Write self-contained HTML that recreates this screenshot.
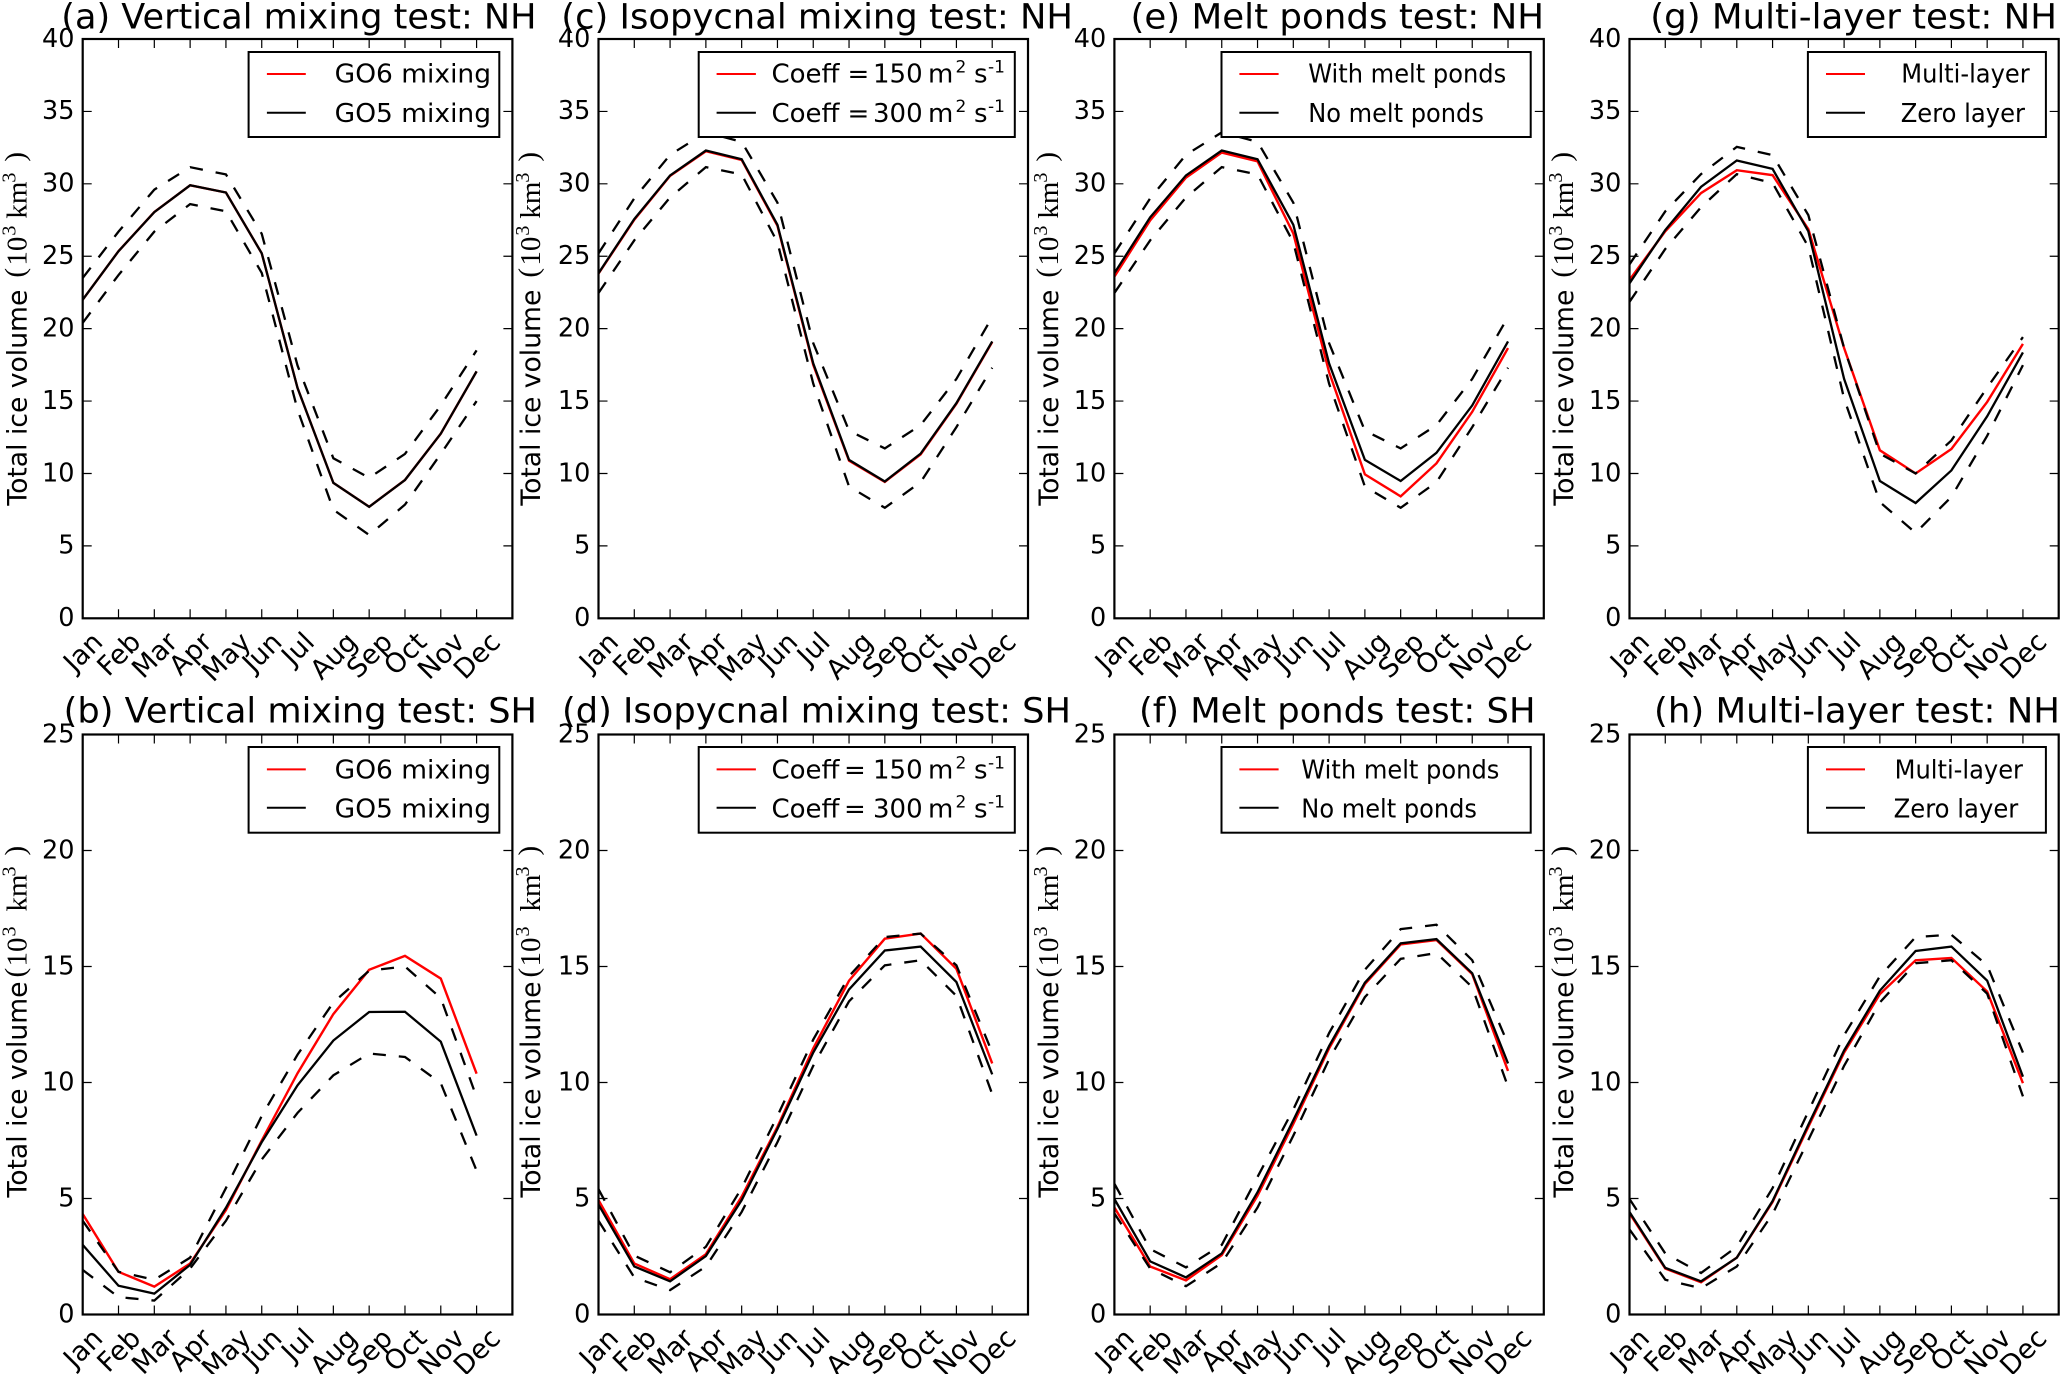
<!DOCTYPE html>
<html lang="en">
<head>
<meta charset="utf-8">
<title>Total ice volume sensitivity tests</title>
<style>
html,body{margin:0;padding:0;background:#fff;}
svg{display:block;}
text{font-family:"DejaVu Sans","Liberation Sans",sans-serif;fill:#000;}
text.math{font-family:"Liberation Serif","DejaVu Serif",serif;}
</style>
</head>
<body>
<svg id="figure" xmlns="http://www.w3.org/2000/svg" width="2067" height="1374" viewBox="0 0 2067 1374"></svg>
<script>
const months = ['Jan','Feb','Mar','Apr','May','Jun','Jul','Aug','Sep','Oct','Nov','Dec'];
const nhTicks = [0,5,10,15,20,25,30,35,40];
const shTicks = [0,5,10,15,20,25];

const aTest  = [22.0,25.35,28.05,29.9,29.4,25.2,15.9,9.35,7.7,9.55,12.75,17.05];
const aMean  = [22.0,25.35,28.05,29.9,29.4,25.2,15.9,9.35,7.7,9.55,12.75,17.05];
const aUpper = [23.5,26.7,29.6,31.15,30.65,26.55,17.45,11.05,9.7,11.35,14.7,18.5];
const aLower = [20.4,23.7,26.7,28.6,28.1,23.85,14.4,7.5,5.75,7.85,11.35,15.0];

const bTest  = [4.33,1.84,1.2,2.2,4.5,7.5,10.4,12.95,14.86,15.46,14.48,10.38];
const bMean  = [3.0,1.24,0.9,2.14,4.6,7.43,9.88,11.81,13.04,13.05,11.76,7.71];
const bUpper = [4.04,1.84,1.5,2.45,5.45,8.56,11.2,13.45,14.82,15.0,13.64,9.37];
const bLower = [1.92,0.75,0.6,1.98,4.04,6.68,8.69,10.31,11.25,11.1,9.97,6.2];

const cTest  = [23.8,27.52,30.55,32.25,31.65,27.1,17.5,10.88,9.42,11.32,14.82,19.08];
const cMean  = [23.83,27.57,30.58,32.3,31.7,27.17,17.6,10.94,9.45,11.37,14.86,19.12];
const cUpper = [25.2,29.0,32.0,33.55,32.9,28.7,19.0,12.95,11.73,13.34,16.53,20.8];
const cLower = [22.46,26.1,29.06,31.15,30.65,25.96,16.2,9.1,7.63,9.4,13.2,17.3];

const dTest  = [4.93,2.2,1.52,2.6,5.08,8.09,11.47,14.39,16.2,16.42,14.9,10.82];
const dMean  = [4.74,2.07,1.43,2.52,4.93,8.0,11.29,14.01,15.69,15.86,14.33,10.35];
const dUpper = [5.4,2.54,1.82,2.92,5.45,8.56,11.85,14.58,16.27,16.42,15.05,11.29];
const dLower = [4.04,1.6,1.05,2.07,4.42,7.43,10.72,13.5,15.05,15.27,13.73,9.5];

const eTest  = [23.59,27.48,30.43,32.16,31.55,26.57,17.0,9.94,8.42,10.7,14.26,18.66];
const eMean  = [23.83,27.69,30.58,32.3,31.7,27.17,17.6,10.94,9.48,11.43,14.7,19.12];
const eUpper = [25.2,29.0,32.0,33.55,32.9,28.7,19.0,12.95,11.73,13.34,16.53,20.8];
const eLower = [22.46,26.1,29.06,31.15,30.65,25.96,16.2,9.1,7.63,9.4,13.2,17.3];

const fTest  = [4.61,2.07,1.47,2.56,5.12,8.22,11.47,14.24,15.95,16.14,14.67,10.5];
const fMean  = [4.98,2.29,1.6,2.63,5.27,8.37,11.57,14.3,16.0,16.18,14.71,10.82];
const fUpper = [5.64,2.82,2.03,3.0,5.93,8.84,12.13,14.86,16.61,16.8,15.27,11.66];
const fLower = [4.36,1.98,1.22,2.22,4.61,7.71,11.0,13.68,15.33,15.58,14.11,9.82];

const gTest  = [23.37,26.72,29.36,30.94,30.6,26.87,18.66,11.6,10.0,11.69,14.94,18.95];
const gMean  = [23.13,26.81,29.79,31.61,31.03,26.72,16.53,9.48,7.96,10.21,13.95,18.36];
const gUpper = [24.44,28.1,30.67,32.55,31.98,27.84,18.66,11.37,10.0,12.28,15.93,19.42];
const gLower = [21.85,25.5,28.39,30.67,30.06,25.65,15.17,8.02,5.9,8.39,12.6,17.48];

const hTest  = [4.36,1.98,1.39,2.45,4.85,8.09,11.29,13.81,15.27,15.37,13.92,9.97];
const hMean  = [4.42,2.01,1.43,2.45,4.89,8.18,11.38,13.96,15.67,15.86,14.39,10.25];
const hUpper = [4.98,2.63,1.79,2.92,5.45,8.75,12.04,14.58,16.27,16.37,15.05,11.29];
const hLower = [3.67,1.5,1.13,2.07,4.33,7.52,10.72,13.45,15.14,15.27,13.83,9.4];

const topRow = {top:39, bottom:618.3, yMax:40, ticks:nhTicks, titleY:28.3, legendTop:52, legendBottom:137, rowA:74, rowB:112.7, textA:82.7, textB:122,
  labelS:{paren:228, ten:240, sup1:270, km:287, sup2:323, close:344}, labelShift:177};
const botRow = {top:734.5, bottom:1314.5, yMax:25, ticks:shTicks, titleY:722.7, legendTop:747, legendBottom:832.7, rowA:769.4, rowB:807.8, textA:778.6, textB:817.4,
  labelS:{paren:220, ten:231, sup1:261, km:286, sup2:321, close:342}, labelShift:173};

const panels = [
 {id:'a', row:topRow, left:82.7, right:512.4, title:'(a) Vertical mixing test: NH', tx:[61.3,536.5], labelX:26.5,
  test:aTest, mean:aMean, upper:aUpper, lower:aLower, legend:[248.6,499.3], handle:[266.9,305.8],
  entries:[{t:'GO6 mixing',x:[334.7,491]},{t:'GO5 mixing',x:[334.7,491]}]},
 {id:'b', row:botRow, left:82.7, right:512.4, title:'(b) Vertical mixing test: SH', tx:[63.7,537], labelX:26.5,
  test:bTest, mean:bMean, upper:bUpper, lower:bLower, legend:[248.6,499.3], handle:[266.9,305.8],
  entries:[{t:'GO6 mixing',x:[334.7,491]},{t:'GO5 mixing',x:[334.7,491]}]},
 {id:'c', row:topRow, left:598.5, right:1028, title:'(c) Isopycnal mixing test: NH', tx:[561.3,1073], labelX:540,
  test:cTest, mean:cMean, upper:cUpper, lower:cLower, legend:[698.7,1014.8], handle:[716.6,755.9],
  coeff:[{v:'150'},{v:'300'}], eqX:847.5},
 {id:'d', row:botRow, left:598.5, right:1028, title:'(d) Isopycnal mixing test: SH', tx:[562,1071], labelX:540,
  test:dTest, mean:dMean, upper:dUpper, lower:dLower, legend:[698.7,1014.8], handle:[716.6,755.9],
  coeff:[{v:'150'},{v:'300'}], eqX:844},
 {id:'e', row:topRow, left:1114.4, right:1543.8, title:'(e) Melt ponds test: NH', tx:[1130.5,1544], labelX:1058.2,
  test:eTest, mean:eMean, upper:eUpper, lower:eLower, legend:[1221.5,1530.7], handle:[1239.4,1278.6],
  entries:[{t:'With melt ponds',x:[1308.2,1506.2]},{t:'No melt ponds',x:[1308.2,1483.9]}]},
 {id:'f', row:botRow, left:1114.4, right:1543.8, title:'(f) Melt ponds test: SH', tx:[1139,1535.5], labelX:1058.2,
  test:fTest, mean:fMean, upper:fUpper, lower:fLower, legend:[1221.5,1530.7], handle:[1239.4,1278.6],
  entries:[{t:'With melt ponds',x:[1301.3,1499.4]},{t:'No melt ponds',x:[1301.3,1477]}]},
 {id:'g', row:topRow, left:1629.5, right:2058.7, title:'(g) Multi-layer test: NH', tx:[1650.3,2057], labelX:1573,
  test:gTest, mean:gMean, upper:gUpper, lower:gLower, legend:[1807.9,2045.9], handle:[1826,1865],
  entries:[{t:'Multi-layer',x:[1901.3,2029.7]},{t:'Zero layer',x:[1900.7,2025]}]},
 {id:'h', row:botRow, left:1629.5, right:2058.7, title:'(h) Multi-layer test: NH', tx:[1654,2060], labelX:1573,
  test:hTest, mean:hMean, upper:hUpper, lower:hLower, legend:[1807.9,2045.9], handle:[1826,1865],
  entries:[{t:'Multi-layer',x:[1894.6,2023]},{t:'Zero layer',x:[1893.6,2018.3]}]}
];

const NS = 'http://www.w3.org/2000/svg';
const svg = document.getElementById('figure');

function make(tag, parent, attrs) {
  const el = document.createElementNS(NS, tag);
  for (const k in attrs) el.setAttribute(k, attrs[k]);
  parent.appendChild(el);
  return el;
}
function label(parent, str, x, y, size, attrs) {
  const el = make('text', parent, Object.assign({x:x, y:y, 'font-size':size}, attrs || {}));
  el.textContent = str;
  return el;
}
function fit(el, a, b) {
  el.setAttribute('textLength', (b - a).toFixed(1));
  el.setAttribute('lengthAdjust', 'spacingAndGlyphs');
}

panels.forEach(function (p) {
  const r = p.row;
  const xScale = function (i) { return p.left + (p.right - p.left) * i / 12; };
  const yScale = function (v) { return r.bottom - (r.bottom - r.top) * v / r.yMax; };
  const linePath = function (vals) {
    return vals.map(function (v, i) { return (i ? 'L' : 'M') + xScale(i).toFixed(2) + ' ' + yScale(v).toFixed(2); }).join(' ');
  };

  const g = make('g', svg, {});
  
  

  const clip = make('clipPath', g, {id:'clip-' + p.id});
  make('rect', clip, {x:p.left, y:r.top, width:p.right - p.left, height:r.bottom - r.top});

  const title = label(g, p.title, p.tx[0], r.titleY, 35);
  fit(title, p.tx[0], p.tx[1]);
  
  

  const series = make('g', g, {'clip-path':'url(#clip-' + p.id + ')', fill:'none'});
  
  

  const testLine = make('path', series, {d:linePath(p.test), stroke:'#ff0000', 'stroke-width':2.4, 'stroke-linejoin':'miter'});
  
  

  const meanLine = make('path', series, {d:linePath(p.mean), stroke:'#000', 'stroke-width':2.3});
  
  

  const upperLine = make('path', series, {d:linePath(p.upper), stroke:'#000', 'stroke-width':2.3, 'stroke-dasharray':'13 13'});
  
  

  const lowerLine = make('path', series, {d:linePath(p.lower), stroke:'#000', 'stroke-width':2.3, 'stroke-dasharray':'13 13'});
  
  

  const yAxis = make('g', g, {});
  
  
  r.ticks.forEach(function (v) {
    const y = yScale(v);
    make('path', yAxis, {d:'M' + p.left + ' ' + y + 'h9M' + p.right + ' ' + y + 'h-9', stroke:'#000', 'stroke-width':1.2, fill:'none'});
    const t = label(yAxis, String(v), p.left - 8.2, y + 7.8, 25.5, {'text-anchor':'end'});
    
    
  });

  const xAxis = make('g', g, {});
  
  
  months.forEach(function (m, i) {
    const x = xScale(i);
    make('path', xAxis, {d:'M' + x + ' ' + r.bottom + 'v-9M' + x + ' ' + r.top + 'v9', stroke:'#000', 'stroke-width':1.2, fill:'none'});
    const holder = make('g', xAxis, {});
    const t = label(holder, m, 0, 9.6, 27, {'text-anchor':'middle'});
    
    
    const w = t.getComputedTextLength();
    const cy = r.bottom + 11.5 + (w + 20) * 0.3536;
    holder.setAttribute('transform', 'translate(' + x + ' ' + cy + ') rotate(-45)');
  });

  const frame = make('rect', g, {x:p.left, y:r.top, width:p.right - p.left, height:r.bottom - r.top, fill:'none', stroke:'#000', 'stroke-width':2.2});
  
  

  const along = function (s) { return s - r.labelShift; };
  const cy = (r.top + r.bottom) / 2;
  const yLabel = make('g', g, {transform:'translate(' + p.labelX + ' ' + cy + ') rotate(-90)'});
  
  
  const main = label(yLabel, 'Total ice volume', along(0), 0, 27);
  fit(main, 0, 216);
  const S = r.labelS;
  label(yLabel, '(', along(S.paren), -2, 29, {class:'math'});
  label(yLabel, '10', along(S.ten), 0, 29, {class:'math'});
  label(yLabel, '3', along(S.sup1), -11, 20, {class:'math'});
  label(yLabel, 'km', along(S.km), 0, 29, {class:'math'});
  label(yLabel, '3', along(S.sup2), -11, 20, {class:'math'});
  label(yLabel, ')', along(S.close), -2, 29, {class:'math'});

  const legend = make('g', g, {});
  
  
  make('rect', legend, {x:p.legend[0], y:r.legendTop, width:p.legend[1] - p.legend[0], height:r.legendBottom - r.legendTop, fill:'#fff', stroke:'#000', 'stroke-width':2});

  const redKey = make('line', legend, {x1:p.handle[0], x2:p.handle[1], y1:r.rowA, y2:r.rowA, stroke:'#ff0000', 'stroke-width':2});
  
  
  const blackKey = make('line', legend, {x1:p.handle[0], x2:p.handle[1], y1:r.rowB, y2:r.rowB, stroke:'#000', 'stroke-width':2});
  
  

  const rows = [r.textA, r.textB];
  if (p.entries) {
    p.entries.forEach(function (e, i) {
      const t = label(legend, e.t, e.x[0], rows[i], 26);
      fit(t, e.x[0], e.x[1]);
      
      
    });
  }
  if (p.coeff) {
    p.coeff.forEach(function (e, i) {
      const y = rows[i];
      const entry = make('g', legend, {});
      
      
      label(entry, 'Coeff', 771.5, y, 26);
      label(entry, '=', p.eqX, y, 26);
      label(entry, e.v, 873, y, 26);
      label(entry, 'm', 928, y, 26);
      label(entry, '2', 955.5, y - 10, 17);
      label(entry, 's', 974, y, 26);
      label(entry, '-1', 988, y - 10, 17);
    });
  }
});
</script>
</body>
</html>
